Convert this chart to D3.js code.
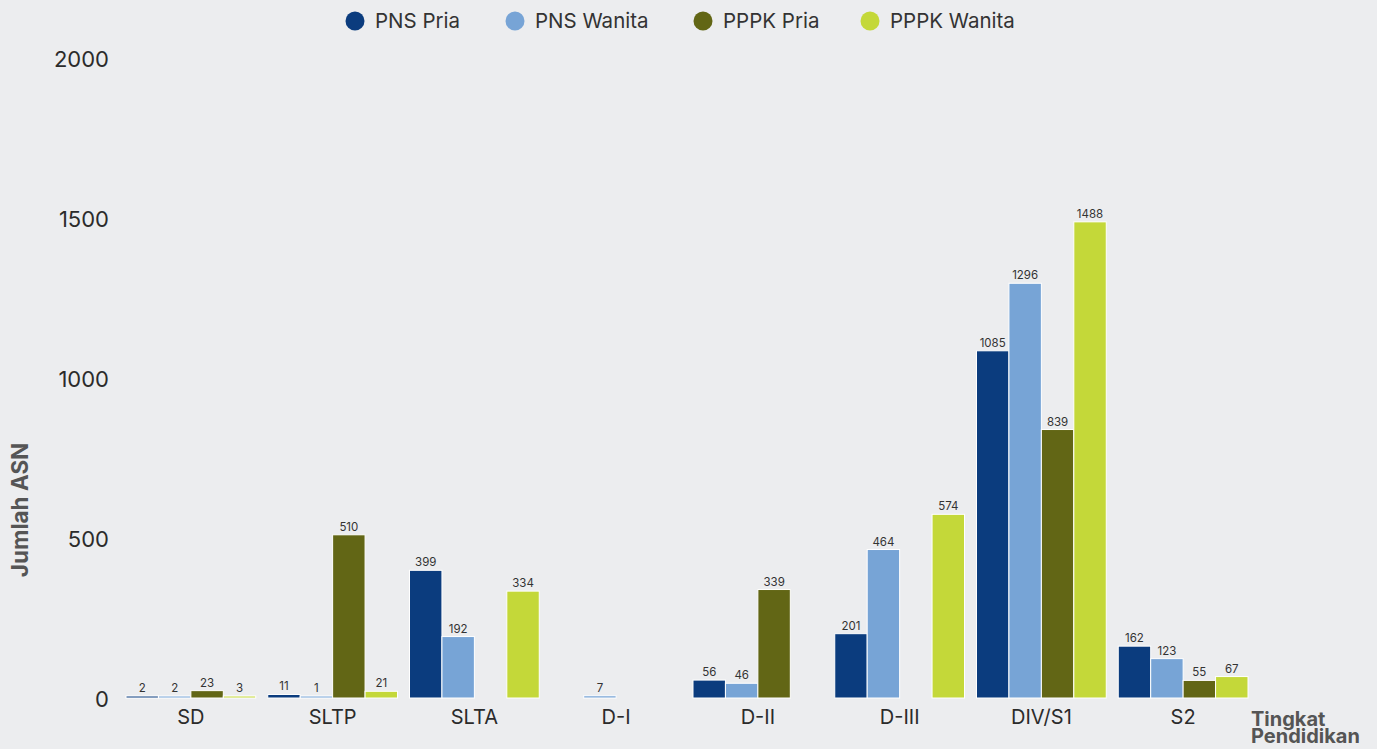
<!DOCTYPE html>
<html>
<head>
<meta charset="utf-8">
<script src="https://cdn.jsdelivr.net/npm/d3@7"></script>
<style>
  body { margin: 0; background: #ecedef; font-family: Inter, "Noto Sans", sans-serif; }
  #chart svg { display: block; }
  .tick-y { font-size: 22px; fill: #2b2b2b; }
  .tick-x { font-size: 20px; fill: #2b2b2b; }
  .val { font-size: 11.5px; fill: #333; }
  .legend-text { font-size: 20.5px; fill: #333; }
  .axis-title { font-weight: 700; fill: #555; }
</style>
</head>
<body>
<div id="chart"></div>
<script>

var categories = ["SD", "SLTP", "SLTA", "D-I", "D-II", "D-III", "DIV/S1", "S2"];
var seriesNames = ["PNS Pria", "PNS Wanita", "PPPK Pria", "PPPK Wanita"];
var pnsPria    = [2, 11, 399, null, 56, 201, 1085, 162];
var pnsWanita  = [2, 1, 192, 7, 46, 464, 1296, 123];
var pppkPria   = [23, 510, null, null, 339, null, 839, 55];
var pppkWanita = [3, 21, 334, null, null, 574, 1488, 67];
var yTicks = [0, 500, 1000, 1500, 2000];

var colors = ["#0b3c7e", "#77a4d6", "#626615", "#c4d839"];

var width = 1377, height = 749;

var svg = d3.select("#chart")
    .append("svg")
    .attr("width", width)
    .attr("height", height)

svg.append("rect")
    .attr("width", width)
    .attr("height", height)
    .attr("fill", "#ecedef")

var x0 = d3.scaleBand().domain(categories).range([120, 1254]).paddingInner(0).paddingOuter(0);
var x1 = d3.scaleBand().domain(seriesNames).range([6, x0.bandwidth() - 6]);
var y = d3.scaleLinear().domain([0, 2000]).range([698, 58]);

var allSeries = [pnsPria, pnsWanita, pppkPria, pppkWanita];

// rows for bars
var rows = [];
categories.forEach(function (c, i) {
    seriesNames.forEach(function (s, j) {
        var v = allSeries[j][i];
        if (v !== null) rows.push({ cat: c, name: s, value: v, color: colors[j] });
    })
})

// y axis labels
svg.append("g")
    .selectAll(".tick-y")
    .data(yTicks)
    .enter()
    .append("text")
    .attr("class", "tick-y")
    .attr("x", 109)
    .attr("y", function (d) { return y(d) + 1; })
    .attr("dy", "0.35em")
    .style("text-anchor", "end")
    .text(function (d) { return d; })

// x axis labels
svg.append("g")
    .selectAll(".tick-x")
    .data(categories)
    .enter()
    .append("text")
    .attr("class", "tick-x")
    .attr("x", function (d) { return x0(d) + x0.bandwidth() / 2; })
    .attr("y", 717)
    .attr("dy", "0.35em")
    .style("text-anchor", "middle")
    .text(function (d) { return d; })

// bars
var bars = svg.append("g");
bars.selectAll(".bar")
    .data(rows)
    .enter()
    .append("rect")
    .attr("class", "bar")
    .attr("x", function (d) { return x0(d.cat) + x1(d.name); })
    .attr("y", function (d) { return Math.min(y(d.value), y(0) - 2); })
    .attr("width", x1.bandwidth())
    .attr("height", function (d) { return Math.max(y(0) - y(d.value), 2); })
    .attr("fill", function (d) { return d.color; })
    .attr("stroke", "#fff")
    .attr("stroke-width", 1)

bars.selectAll(".val")
    .data(rows)
    .enter()
    .append("text")
    .attr("class", "val")
    .attr("x", function (d) { return x0(d.cat) + x1(d.name) + x1.bandwidth() / 2; })
    .attr("y", function (d) { return Math.min(y(d.value), y(0) - 2) - 4; })
    .style("text-anchor", "middle")
    .text(function (d) { return d.value; })

// legend
var legendX = [355, 515, 703, 870];
var legend = svg.append("g");
legend.selectAll("circle")
    .data(seriesNames)
    .enter()
    .append("circle")
    .attr("cx", function (d, i) { return legendX[i]; })
    .attr("cy", 21)
    .attr("r", 9.5)
    .attr("fill", function (d, i) { return colors[i]; })
legend.selectAll(".legend-text")
    .data(seriesNames)
    .enter()
    .append("text")
    .attr("class", "legend-text")
    .attr("x", function (d, i) { return legendX[i] + 20; })
    .attr("y", 21)
    .attr("dy", "0.35em")
    .text(function (d) { return d; })

// axis titles
svg.append("text")
    .attr("class", "axis-title")
    .attr("transform", "translate(28,510) rotate(-90)")
    .style("text-anchor", "middle")
    .style("font-size", "22.5px")
    .text("Jumlah ASN")

var xt = svg.append("text")
    .attr("class", "axis-title")
    .style("font-size", "20px")
    .attr("x", 1251)
    .attr("y", 726)
xt.append("tspan").attr("x", 1251).text("Tingkat");
xt.append("tspan").attr("x", 1251).attr("dy", 17).text("Pendidikan");

</script>
</body>
</html>
